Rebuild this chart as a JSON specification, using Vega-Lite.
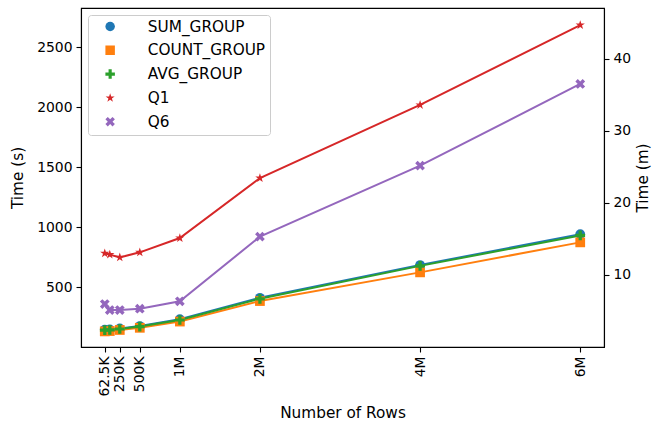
{
  "$schema": "https://vega.github.io/schema/vega-lite/v6.json",
  "width": 523,
  "height": 339,
  "autosize": {"type": "none"},
  "padding": {"left": 81, "top": 8, "right": 49, "bottom": 79},
  "background": "white",
  "config": {
    "font": "DejaVu Sans",
    "view": {"stroke": "black", "strokeWidth": 1.1},
    "axis": {
      "grid": false,
      "domainColor": "black",
      "domainWidth": 1.1,
      "tickColor": "black",
      "tickWidth": 1.1,
      "tickSize": 5,
      "labelFont": "DejaVu Sans",
      "labelFontSize": 13.9,
      "labelColor": "black",
      "labelPadding": 4,
      "titleFont": "DejaVu Sans",
      "titleFontSize": 15.3,
      "titleFontWeight": "normal",
      "titleColor": "black"
    }
  },
  "datasets": {
    "runs": [
      {"series": "SUM_GROUP", "rows": 62500, "seconds": 145},
      {"series": "SUM_GROUP", "rows": 125000, "seconds": 146},
      {"series": "SUM_GROUP", "rows": 250000, "seconds": 155},
      {"series": "SUM_GROUP", "rows": 500000, "seconds": 175},
      {"series": "SUM_GROUP", "rows": 1000000, "seconds": 232},
      {"series": "SUM_GROUP", "rows": 2000000, "seconds": 410},
      {"series": "SUM_GROUP", "rows": 4000000, "seconds": 683},
      {"series": "SUM_GROUP", "rows": 6000000, "seconds": 940},
      {"series": "COUNT_GROUP", "rows": 62500, "seconds": 130},
      {"series": "COUNT_GROUP", "rows": 125000, "seconds": 133},
      {"series": "COUNT_GROUP", "rows": 250000, "seconds": 142},
      {"series": "COUNT_GROUP", "rows": 500000, "seconds": 160},
      {"series": "COUNT_GROUP", "rows": 1000000, "seconds": 212},
      {"series": "COUNT_GROUP", "rows": 2000000, "seconds": 383},
      {"series": "COUNT_GROUP", "rows": 4000000, "seconds": 622},
      {"series": "COUNT_GROUP", "rows": 6000000, "seconds": 872},
      {"series": "AVG_GROUP", "rows": 62500, "seconds": 140},
      {"series": "AVG_GROUP", "rows": 125000, "seconds": 142},
      {"series": "AVG_GROUP", "rows": 250000, "seconds": 150},
      {"series": "AVG_GROUP", "rows": 500000, "seconds": 170},
      {"series": "AVG_GROUP", "rows": 1000000, "seconds": 225},
      {"series": "AVG_GROUP", "rows": 2000000, "seconds": 402},
      {"series": "AVG_GROUP", "rows": 4000000, "seconds": 676},
      {"series": "AVG_GROUP", "rows": 6000000, "seconds": 930},
      {"series": "Q1", "rows": 62500, "seconds": 781},
      {"series": "Q1", "rows": 125000, "seconds": 770},
      {"series": "Q1", "rows": 250000, "seconds": 747},
      {"series": "Q1", "rows": 500000, "seconds": 789},
      {"series": "Q1", "rows": 1000000, "seconds": 908},
      {"series": "Q1", "rows": 2000000, "seconds": 1408},
      {"series": "Q1", "rows": 4000000, "seconds": 2017},
      {"series": "Q1", "rows": 6000000, "seconds": 2683},
      {"series": "Q6", "rows": 62500, "seconds": 358},
      {"series": "Q6", "rows": 125000, "seconds": 308},
      {"series": "Q6", "rows": 250000, "seconds": 308},
      {"series": "Q6", "rows": 500000, "seconds": 319},
      {"series": "Q6", "rows": 1000000, "seconds": 381},
      {"series": "Q6", "rows": 2000000, "seconds": 920},
      {"series": "Q6", "rows": 4000000, "seconds": 1511},
      {"series": "Q6", "rows": 6000000, "seconds": 2192}
    ]
  },
  "data": {"name": "runs"},
  "layer": [
    {
      "encoding": {
        "x": {
          "field": "rows",
          "type": "quantitative",
          "scale": {"domain": [-234375, 6296875], "nice": false, "zero": false},
          "axis": {
            "values": [62500, 250000, 500000, 1000000, 2000000, 4000000, 6000000],
            "labelExpr": "datum.value == 62500 ? '62.5K' : (datum.value < 1000000 ? (datum.value / 1000) + 'K' : (datum.value / 1000000) + 'M')",
            "labelAngle": -90,
            "labelOverlap": false,
            "labelFlush": false,
            "labelBound": false,
            "title": "Number of Rows",
            "titlePadding": 9
          }
        },
        "y": {
          "field": "seconds",
          "type": "quantitative",
          "scale": {"domain": [0, 2825], "nice": false, "zero": false},
          "axis": {
            "values": [500, 1000, 1500, 2000, 2500],
            "format": "d",
            "title": "Time (s)",
            "titlePadding": 11
          }
        },
        "color": {
          "field": "series",
          "type": "nominal",
          "scale": {
            "domain": ["SUM_GROUP", "COUNT_GROUP", "AVG_GROUP", "Q1", "Q6"],
            "range": ["#1f77b4", "#ff7f0e", "#2ca02c", "#d62728", "#9467bd"]
          },
          "legend": {
            "orient": "top-left",
            "offset": 7,
            "title": null,
            "padding": 4.5,
            "fillColor": "rgba(255,255,255,0.8)",
            "strokeColor": "#cccccc",
            "cornerRadius": 3,
            "labelFont": "DejaVu Sans",
            "labelFontSize": 15.3,
            "labelColor": "black",
            "symbolSize": 90,
            "symbolStrokeWidth": 0,
            "clipHeight": 14,
            "rowPadding": 7.8,
            "symbolOffset": 10,
            "labelOffset": 30
          }
        }
      },
      "layer": [
        {
          "mark": {"type": "line", "strokeWidth": 2, "clip": true}
        },
        {
          "mark": {"type": "point", "filled": true, "size": 95, "opacity": 1, "strokeWidth": 0, "clip": true},
          "encoding": {
            "shape": {
              "field": "series",
              "type": "nominal",
              "scale": {
                "domain": ["SUM_GROUP", "COUNT_GROUP", "AVG_GROUP", "Q1", "Q6"],
                "range": [
                  "circle",
                  "square",
                  "M-0.333,-1H0.333V-0.333H1V0.333H0.333V1H-0.333V0.333H-1V-0.333H-0.333Z",
                  "M0,-1L0.2245,-0.309L0.951,-0.309L0.363,0.118L0.588,0.809L0,0.382L-0.588,0.809L-0.363,0.118L-0.951,-0.309L-0.2245,-0.309Z",
                  "M0.5,-1L1,-0.5L0.5,0L1,0.5L0.5,1L0,0.5L-0.5,1L-1,0.5L-0.5,0L-1,-0.5L-0.5,-1L0,-0.5Z"
                ]
              },
              "legend": null
            }
          }
        }
      ]
    },
    {
      "mark": {"type": "point", "opacity": 0, "clip": true},
      "encoding": {
        "x": {"field": "rows", "type": "quantitative"},
        "y": {
          "field": "seconds",
          "type": "quantitative",
          "scale": {"domain": [0, 47.083], "nice": false, "zero": false},
          "axis": {
            "orient": "right",
            "values": [10, 20, 30, 40],
            "title": "Time (m)",
            "titleAngle": -90,
            "titleBaseline": "top",
            "titlePadding": 5
          }
        }
      }
    }
  ],
  "resolve": {"scale": {"y": "independent"}}
}
